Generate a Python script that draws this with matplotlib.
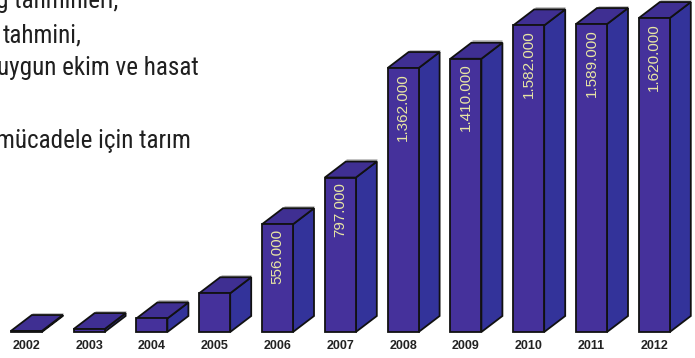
import matplotlib
matplotlib.use("Agg")
import matplotlib.pyplot as plt
from matplotlib.patches import Polygon
from matplotlib import font_manager

years = ["2002", "2003", "2004", "2005", "2006", "2007", "2008", "2009", "2010", "2011", "2012"]
values = [5000, 15000, 70000, 200000, 556000, 797000, 1362000, 1410000, 1582000, 1589000, 1620000]
labelled_from = 4  # value labels shown from 2006 onward

text_lines = ["ğ tahminleri,", "tahmini,", "uygun ekim ve hasat", "mücadele için tarım"]

W, H = 695, 358
fig = plt.figure(figsize=(W / 100, H / 100), dpi=100)
fig.patch.set_facecolor("white")

names = {f.name for f in font_manager.fontManager.ttflist}
narrow = "Liberation Sans"
for cand in ["Liberation Sans Narrow", "Roboto Condensed", "Archivo Narrow", "PT Sans Narrow", "Arimo"]:
    if cand in names:
        narrow = cand
        break

# axes in pixel geometry
bottom_px = 332
spacing_px = 62.8
first_px = 26.3
ax = fig.add_axes([0, (H - bottom_px) / H, 1, bottom_px / H])
ax.set_xlim(-first_px / spacing_px, (W - first_px) / spacing_px)
ax.set_ylim(0, bottom_px / 0.1938 * 1000)
ax.axis("off")

bar_w = 31 / spacing_px
dx = 21 / spacing_px
dy = 16 / 0.1938 * 1000
front_c = "#45319b"
side_c = "#33339a"
top_c = "#3f2f92"
edge = "#111111"

for i, (yr, v) in enumerate(zip(years, values)):
    x0 = i - bar_w / 2
    x1 = i + bar_w / 2
    ax.plot([x0 + dx + 0.01, x1 + dx], [v + dy + 7000, v + dy + 7000], color="#bcbcbc", lw=2.0,
            solid_capstyle="butt", zorder=1, clip_on=False)
    front = Polygon([(x0, 0), (x1, 0), (x1, v), (x0, v)], closed=True,
                    facecolor=front_c, edgecolor=edge, lw=1.3, zorder=3, clip_on=False)
    side = Polygon([(x1, 0), (x1 + dx, dy), (x1 + dx, v + dy), (x1, v)], closed=True,
                   facecolor=side_c, edgecolor=edge, lw=1.3, zorder=2, clip_on=False)
    top = Polygon([(x0, v), (x1, v), (x1 + dx, v + dy), (x0 + dx, v + dy)], closed=True,
                  facecolor=top_c, edgecolor=edge, lw=1.3, zorder=2, clip_on=False)
    ax.add_patch(side)
    ax.add_patch(top)
    ax.add_patch(front)
    ax.annotate(yr, (i, 0), xytext=(0, -14), textcoords="offset pixels",
                ha="center", va="center", fontsize=9, fontweight="bold",
                color="#222222", family="Liberation Sans", annotation_clip=False)
    if i >= labelled_from:
        lab = f"{v:,}".replace(",", ".")
        ax.annotate(lab, (i, v), xytext=(0, -5), textcoords="offset pixels",
                    ha="center", va="top", rotation=90, fontsize=11,
                    color="#e8e6a4", family="Liberation Sans", annotation_clip=False)

# top-left text: size calibrated so the third line spans ~202 px
renderer = fig.canvas.get_renderer()
probe = fig.text(0, 0, text_lines[2], fontsize=20, family=narrow)
wpx = probe.get_window_extent(renderer).width
probe.remove()
size = 20 * 202 / wpx

line_pos = [(-4, 8), (3, 42), (-3, 75), (-4, 148)]
for t, (px, py) in zip(text_lines, line_pos):
    fig.text(px / W, 1 - py / H, t, ha="left", va="baseline", fontsize=size,
             color="#1f1f1f", family=narrow)

fig.savefig("out.png", dpi=100, facecolor="white")
